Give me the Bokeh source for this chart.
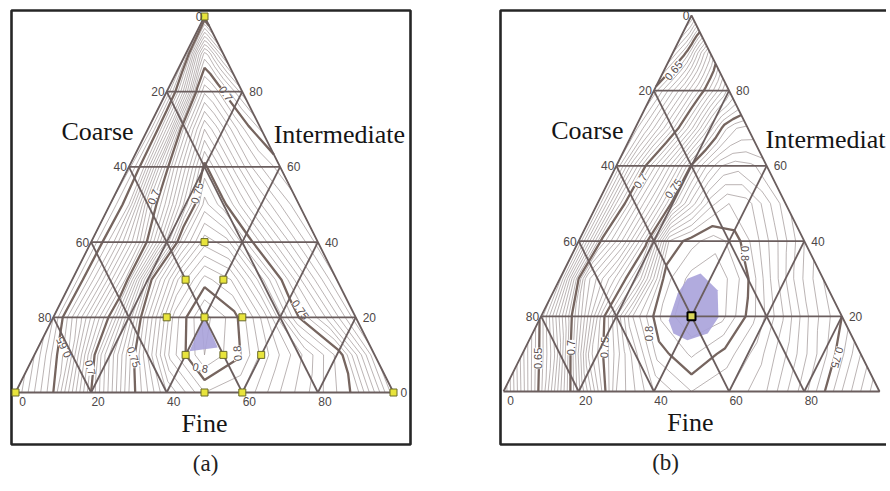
import numpy as np
from bokeh.plotting import figure
from bokeh.models import Range1d
from bokeh.core.properties import value
from bokeh.embed import file_html
from bokeh.resources import INLINE

# ----------------------------- data -----------------------------
grid_steps = [20, 40, 60, 80]
tick_steps = [0, 20, 40, 60, 80]
tick_text = ["0", "20", "40", "60", "80"]

# surface tables: rows = height of top component (%), columns = position across the row (%)
field_rows = [0, 10, 20, 30, 40, 50, 60, 70, 80, 90, 100]
field_cols = [0, 10, 20, 30, 40, 50, 60, 70, 80, 90, 100]

z_a = [
    [0.620, 0.650, 0.700, 0.745, 0.775, 0.795, 0.790, 0.775, 0.762, 0.748, 0.712],
    [0.630, 0.660, 0.712, 0.752, 0.792, 0.810, 0.801, 0.783, 0.768, 0.752, 0.716],
    [0.640, 0.672, 0.706, 0.755, 0.792, 0.812, 0.802, 0.782, 0.752, 0.735, 0.712],
    [0.640, 0.665, 0.695, 0.750, 0.780, 0.797, 0.790, 0.770, 0.748, 0.728, 0.710],
    [0.640, 0.660, 0.685, 0.718, 0.758, 0.778, 0.772, 0.752, 0.736, 0.721, 0.708],
    [0.640, 0.655, 0.690, 0.712, 0.738, 0.762, 0.752, 0.738, 0.725, 0.715, 0.706],
    [0.638, 0.655, 0.685, 0.710, 0.730, 0.752, 0.740, 0.728, 0.716, 0.708, 0.703],
    [0.635, 0.652, 0.673, 0.703, 0.720, 0.735, 0.727, 0.718, 0.709, 0.701, 0.694],
    [0.635, 0.648, 0.662, 0.680, 0.702, 0.714, 0.710, 0.704, 0.697, 0.690, 0.682],
    [0.640, 0.652, 0.664, 0.675, 0.684, 0.692, 0.689, 0.683, 0.677, 0.671, 0.665],
    [0.645, 0.645, 0.645, 0.645, 0.645, 0.645, 0.645, 0.645, 0.645, 0.645, 0.645],
]

z_b = [
    [0.600, 0.654, 0.713, 0.765, 0.785, 0.795, 0.790, 0.780, 0.762, 0.740, 0.720],
    [0.628, 0.672, 0.738, 0.769, 0.797, 0.806, 0.798, 0.787, 0.772, 0.755, 0.735],
    [0.652, 0.699, 0.746, 0.784, 0.806, 0.815, 0.812, 0.797, 0.781, 0.763, 0.750],
    [0.658, 0.717, 0.738, 0.762, 0.803, 0.812, 0.814, 0.803, 0.785, 0.768, 0.755],
    [0.660, 0.701, 0.722, 0.748, 0.795, 0.803, 0.808, 0.802, 0.790, 0.778, 0.765],
    [0.660, 0.690, 0.712, 0.730, 0.752, 0.772, 0.788, 0.795, 0.792, 0.782, 0.772],
    [0.660, 0.682, 0.701, 0.716, 0.732, 0.751, 0.765, 0.775, 0.778, 0.776, 0.772],
    [0.658, 0.668, 0.679, 0.690, 0.702, 0.714, 0.728, 0.742, 0.754, 0.760, 0.762],
    [0.652, 0.659, 0.666, 0.673, 0.680, 0.688, 0.695, 0.703, 0.711, 0.719, 0.728],
    [0.635, 0.640, 0.644, 0.648, 0.653, 0.659, 0.666, 0.672, 0.678, 0.683, 0.689],
    [0.620, 0.620, 0.620, 0.620, 0.620, 0.620, 0.620, 0.620, 0.620, 0.620, 0.620],
]

major_levels = [0.65, 0.70, 0.75, 0.80]
minor_step_count = 10         # intervals between two labelled contours
level_floor = 0.60
level_count = 47

# design points of panel (a): top-corner and right-corner percentages
design_T = [100, 0, 0, 40, 30, 30, 20, 20, 20, 10, 10, 10, 0, 0]
design_R = [0, 0, 100, 30, 30, 40, 30, 40, 50, 40, 50, 60, 50, 60]
# optimum point of panel (b)
opt_T = [20]
opt_R = [40]

# shaded optimum regions
region_a_T = [20, 11, 12]
region_a_R = [40, 40.5, 47.5]
region_b_T = [31.4, 26.9, 19.7, 15.4, 13.6, 15.4, 18.9, 26.1, 30.0]
region_b_R = [36.7, 43.5, 47.3, 46.6, 42.1, 37.5, 34.5, 33.3, 33.9]

# contour labels
lab_a_text = ["0.7", "0.7", "0.75", "0.65", "0.7", "0.75", "0.75", "0.8", "0.8"]
lab_a_T = [79.5, 52, 53, 12, 6.6, 9.4, 22, 10.4, 6.6]
lab_a_R = [15.9, 10.5, 21.5, 6.7, 16.5, 26.6, 64.4, 53.5, 45.6]
lab_a_ang = [-55, 68, 75, 115, -75, -70, -55, 95, -10]

lab_b_text = ["0.65", "0.7", "0.75", "0.65", "0.7", "0.75", "0.8", "0.8", "0.75"]
lab_b_T = [85.4, 56, 54, 8.8, 11.7, 11.7, 15.4, 36.7, 9]
lab_b_R = [2.5, 8.4, 18.2, 4.9, 12, 21, 31.1, 46, 84.3]
lab_b_ang = [50, 55, 55, 90, 90, 88, 90, -90, -105]

axis_titles = ["Coarse", "Intermediate", "Fine"]
captions = ["(a)", "(b)"]

# ----------------------------- layout -----------------------------
PANEL_A = dict(x0=15.0, y0=392.0, w=378.0, ht=376.0, box=(-4, 395, -382, 52),
               coarse=(0.217, 0.693), inter=(0.683, 0.686), fine=(0.5, -0.082), cap=(0.503, -0.19))
PANEL_B = dict(x0=503.0, y0=391.0, w=376.0, ht=376.0, box=(-3, 420, -381, 53),
               coarse=(0.223, 0.693), inter=(0.697, 0.67), fine=(0.497, -0.082), cap=(0.431, -0.19))

GRID_COLOR = "#6b5e5e"
MINOR_COLOR = "#9e9494"
MAJOR_COLOR = "#76655f"
TICK_COLOR = "#4d4747"
SANS = value("Liberation Sans")
SERIF = value("Liberation Serif")

minor_levels = [round(level_floor + k * 0.05 / minor_step_count, 5)
                for k in range(level_count) if k % minor_step_count]


def to_px(pn, xf, hf):
    xf = np.asarray(xf, float)
    hf = np.asarray(hf, float)
    return pn["x0"] + pn["w"] * xf, pn["y0"] - pn["ht"] * hf


def tern_px(pn, T, R):
    t = np.asarray(T, float) / 100.0
    r = np.asarray(R, float) / 100.0
    return to_px(pn, r + t / 2.0, t)


p = figure(width=886, height=487, x_range=Range1d(0, 886), y_range=Range1d(487, 0),
           output_backend="svg", toolbar_location=None, min_border=0,
           x_axis_location=None, y_axis_location=None)
p.grid.visible = False
p.outline_line_color = None
p.background_fill_color = "white"
p.border_fill_color = "white"


def draw_panel(pn, z_rows, reg_T, reg_R, lt, lT, lR, la, pts_T, pts_R, opt):
    bx = pn["box"]
    p.quad(left=[pn["x0"] + bx[0]], right=[pn["x0"] + bx[1]],
           top=[pn["y0"] + bx[2]], bottom=[pn["y0"] + bx[3]],
           fill_color=None, line_color="#262626", line_width=2.6)

    hs = np.array(field_rows, float) / 100.0
    us = np.array(field_cols, float) / 100.0
    H, U = np.meshgrid(hs, us, indexing="ij")
    XF = H / 2.0 + U * (1.0 - H)
    X, Y = to_px(pn, XF, H)
    Z = np.array(z_rows, float)
    p.contour(X, Y, Z, levels=minor_levels, line_color=MINOR_COLOR, line_width=0.7)
    p.contour(X, Y, Z, levels=major_levels, line_color=MAJOR_COLOR, line_width=2.3)

    rx, ry = tern_px(pn, reg_T, reg_R)
    p.patch(list(rx), list(ry), fill_color="#a8a2da", fill_alpha=0.9, line_color=None)

    lx, ly = tern_px(pn, lT, lR)
    p.text(x=list(lx), y=list(ly), text=lt, angle=la, angle_units="deg",
           text_font=SANS, text_font_size="11px", text_color="#5a5050",
           text_align="center", text_baseline="middle",
           background_fill_color="white")

    # grid lines
    xs, ys = [], []
    for g in grid_steps:
        f = g / 100.0
        for (a, b) in [((f / 2, f), (1 - f / 2, f)),
                       ((f, 0.0), ((1 + f) / 2, 1 - f)),
                       ((f, 0.0), (f / 2, f))]:
            gx, gy = to_px(pn, [a[0], b[0]], [a[1], b[1]])
            xs.append(list(gx))
            ys.append(list(gy))
    p.multi_line(xs, ys, line_color=GRID_COLOR, line_width=1.8)
    tx, ty = to_px(pn, [0, 1, 0.5, 0], [0, 0, 1, 0])
    p.line(list(tx), list(ty), line_color=GRID_COLOR, line_width=1.8)

    if pts_T:
        mx, my = tern_px(pn, pts_T, pts_R)
        if opt:
            p.scatter(list(mx), list(my), marker="square", size=8, fill_color="#d9d65a",
                      line_color="black", line_width=2)
        else:
            p.scatter(list(mx), list(my), marker="square", size=7, fill_color="#e8e43c",
                      line_color="#6a6a2a", line_width=1)

    # tick labels
    hl = [1 - t / 100.0 for t in tick_steps]
    x1, y1 = to_px(pn, [h / 2 for h in hl], hl)
    p.text(x=list(x1 - 2), y=list(y1), text=tick_text, text_font=SANS, text_font_size="12px",
           text_color=TICK_COLOR, text_align="right", text_baseline="middle")
    hr = [t / 100.0 for t in tick_steps]
    x2, y2 = to_px(pn, [1 - h / 2 for h in hr], hr)
    p.text(x=list(x2 + 7), y=list(y2), text=tick_text, text_font=SANS, text_font_size="12px",
           text_color=TICK_COLOR, text_align="left", text_baseline="middle")
    x3, y3 = to_px(pn, [t / 100.0 for t in tick_steps], [0] * len(tick_steps))
    p.text(x=list(x3 + 7), y=list(y3 + 9), text=tick_text, text_font=SANS, text_font_size="12px",
           text_color=TICK_COLOR, text_align="center", text_baseline="middle")

    # titles
    cx, cy = to_px(pn, pn["coarse"][0], pn["coarse"][1])
    p.text(x=[float(cx)], y=[float(cy)], text=[axis_titles[0]], text_font=SERIF,
           text_font_size="26px", text_color="#151515", text_align="center", text_baseline="middle")
    ix, iy = to_px(pn, pn["inter"][0], pn["inter"][1])
    p.text(x=[float(ix)], y=[float(iy)], text=[axis_titles[1]], text_font=SERIF,
           text_font_size="26px", text_color="#151515", text_align="left", text_baseline="middle")
    fx, fy = to_px(pn, pn["fine"][0], pn["fine"][1])
    p.text(x=[float(fx)], y=[float(fy)], text=[axis_titles[2]], text_font=SERIF,
           text_font_size="26px", text_color="#151515", text_align="center", text_baseline="middle")


draw_panel(PANEL_A, z_a, region_a_T, region_a_R, lab_a_text, lab_a_T, lab_a_R, lab_a_ang,
           design_T, design_R, False)
draw_panel(PANEL_B, z_b, region_b_T, region_b_R, lab_b_text, lab_b_T, lab_b_R, lab_b_ang,
           opt_T, opt_R, True)

for pn, cap in [(PANEL_A, captions[0]), (PANEL_B, captions[1])]:
    kx, ky = to_px(pn, pn["cap"][0], pn["cap"][1])
    p.text(x=[float(kx)], y=[float(ky)], text=[cap], text_font=SERIF, text_font_size="23px",
           text_color="#222222", text_align="center", text_baseline="middle")

open("out.html", "w").write(file_html(p, INLINE))
